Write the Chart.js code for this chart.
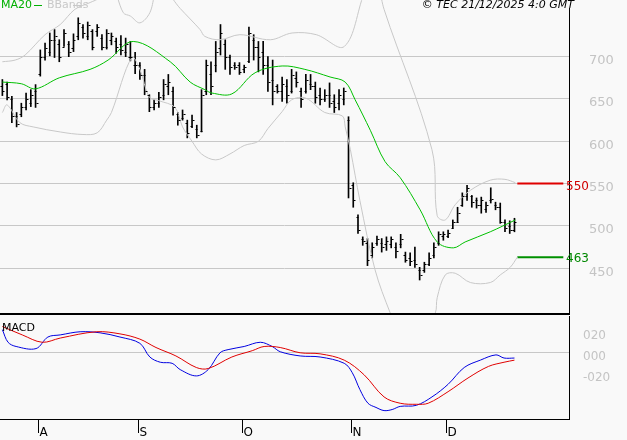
<!DOCTYPE html>
<html><head><meta charset="utf-8">
<script src="https://cdn.jsdelivr.net/npm/chart.js@4"></script>
<style>
html,body{margin:0;padding:0;background:#f9f9f9;overflow:hidden;}
canvas{display:block;position:absolute;left:0;}
#c1{top:0;}
#c2{top:316px;}
</style></head><body>
<canvas id="c1" width="627" height="316"></canvas>
<canvas id="c2" width="627" height="124"></canvas>
<script>
// ---- DATA ----
const opens  = [665,668,650,630,632,640,645,660, 680,700,705,720,715,712,715,710,725,735,725,730,730,722,712,720,718,715,705,700,690, 690,678,655,640,645,655,665,660,632,628,622,618,615,612,660,680,690,710,715,700,690,690, 685,695,720,712,705,690,672,665,660,665,660,675,660,660,668,665,655,650,655,648,645,650,625, 548,510,485,480,465,480,480,478,478,475,478,465,462,460,448,448,455,465,480,488, 488,498,505,525,535,535,530,525,520,530,525,522,505,500,495];
const highs  = [673,670,653,634,645,657,661,667, 708,716,728,732,720,732,718,727,746,738,741,732,738,726,732,728,722,725,722,718,705, 693,685,655,649,658,673,679,664,634,637,625,631,619,661,696,694,718,738,720,702,693,693, 690,735,726,718,718,700,696,667,676,673,685,682,663,679,679,670,663,661,669,655,661,663,629, 551,513,487,485,480,488,485,487,487,480,490,469,468,475,451,457,468,480,493,493, 495,507,522,539,548,536,533,534,528,545,528,527,507,506,509];
const lows   = [654,649,622,617,629,637,641,640, 677,696,701,699,694,712,700,706,720,722,720,708,724,708,709,714,704,702,700,695,680, 673,655,635,637,640,649,655,631,619,625,604,616,604,611,655,655,682,702,685,679,685,679, 681,693,696,682,679,659,643,657,647,645,657,664,640,657,661,645,643,647,640,634,637,643,533, 522,491,477,453,462,477,469,471,474,462,474,457,453,451,436,445,453,462,477,483, 486,497,504,523,530,522,521,515,516,527,519,503,493,491,493];
const closes = [660,652,630,620,640,650,655,645, 700,710,720,725,700,728,705,720,740,728,738,712,735,712,728,725,712,708,715,700,690, 678,660,640,645,652,668,670,640,625,632,610,625,608,655,690,665,705,728,700,688,688,682, 688,728,712,700,690,670,660,660,668,655,678,670,650,672,665,652,650,655,645,640,655,660,545, 530,495,482,460,475,485,475,482,485,470,485,460,458,455,442,455,462,475,490,490, 492,505,515,535,545,528,525,530,525,532,522,505,498,495,505];
const ma20Pts  = [[0,670],[4,668],[7,662],[12,675],[18.5,685],[22.3,696],[27.6,718],[35.4,694],[39.6,670],[42.7,661],[44.2,657],[48.4,656],[53.3,681],[59,689],[63.8,685],[69.1,676],[72.3,670],[74.4,649],[77.6,613],[80.7,576],[83.9,557],[88.1,519],[91.7,481],[95.1,474],[97.6,481],[102.9,493],[108.2,507]];
const upperPts = [[0,694],[2.7,696],[4.8,702],[9,726],[12.2,738],[15.3,756],[18.5,764],[20.6,770],[23,785],[25.5,752],[27,748],[29,740],[31.1,752],[33,785],[37.5,757],[41.7,732],[42.7,724],[45.9,720],[50.1,726],[56.5,720],[61.1,728],[66.2,726],[72.1,712],[76.3,775],[78.5,800],[80.5,756],[90.6,590],[91.7,512],[93.4,507],[95.5,525],[98.7,542],[102.9,554],[106,555],[108.2,551]];
const lowerPts = [[0,634],[1,643],[3.7,622],[6.5,617],[12.2,611],[17,608],[20,610],[22,625],[23,634],[27.3,699],[29,685],[31,652],[33,648],[36.4,640],[38,617],[40,600],[42,585],[45,578],[48,585],[51,595],[54,600],[56,615],[59,635],[61,649],[64,651],[68,634],[71.7,630],[72.3,617],[73.4,590],[75.4,530],[78.6,448],[81.8,397],[84,370],[88,362],[91.3,397],[91.7,415],[93.4,442],[95.5,444],[98.7,433],[102.9,433],[105,442],[107.1,451],[108.6,463]];
const macdPts  = [[0,22],[1.2,10],[2.9,6],[7.1,4],[9.6,15],[12.2,17],[16.4,20],[20.6,19],[24.8,15],[29,9],[31.1,-4],[33.3,-9],[35.8,-10],[37.5,-16],[40.9,-22],[43.4,-16],[45.9,0],[47.6,3],[51,6],[54.4,10],[56.9,6],[58.6,1],[62.8,-3],[67,-4],[72.1,-10],[73.8,-19],[75.4,-35],[77.1,-48],[78.8,-52],[80.5,-55],[82.2,-54],[83.9,-51],[87.3,-50],[90.6,-42],[94,-30],[97.4,-14],[100.8,-7],[104.1,-2],[105.8,-5],[108,-5]];
const signalPts= [[0,25],[4.2,17],[8.4,10],[12.2,14],[19.8,20],[24.8,18],[29,13],[32.4,5],[36.6,-3],[40.9,-14],[43.4,-15],[48.4,-4],[52.7,2],[55.2,6],[58.6,5],[62.8,0],[67,-1],[72.1,-7],[76.3,-21],[80.5,-42],[83.9,-48],[87.3,-49],[89.8,-48],[94,-37],[98.2,-24],[102.5,-13],[105.8,-9],[108,-7]];
const resistance = 550, support = 463;
const priceTicks = [450,500,550,600,650,700];
const macdTicks = [[20,'020'],[0,'000'],[-20,'-020']];
const monthIdx = [8,29,51,74,94];
const monthLbl = ['A','S','O','N','D'];
const N_SLOTS = 120;

const P = a => a.map(p => ({x:p[0], y:p[1]}));
const AXW = 58;
const xCfg = {type:'linear', min:-0.5, max:N_SLOTS-0.5, display:false, offset:false};
const fitY = ax => { ax.width = AXW; ax.paddingTop = 0; ax.paddingBottom = 0; };

const ohlcPlugin = {
  id:'ohlc',
  afterDatasetsDraw(c){
    const ctx=c.ctx, xs=c.scales.x, ys=c.scales.y, a=c.chartArea;
    ctx.save();
    ctx.strokeStyle='#000'; ctx.lineWidth=1;
    for(let i=0;i<closes.length;i++){
      const x=Math.round(xs.getPixelForValue(i))+0.5;
      let y=Math.round(ys.getPixelForValue(opens[i]))+0.5;
      ctx.beginPath(); ctx.moveTo(x-2,y); ctx.lineTo(x,y); ctx.stroke();
      y=Math.round(ys.getPixelForValue(closes[i]))+0.5;
      ctx.beginPath(); ctx.moveTo(x,y); ctx.lineTo(x+2,y); ctx.stroke();
    }
    ctx.fillStyle='#000';
    ctx.fillRect(0,a.bottom,a.right+1,2);
    ctx.fillRect(a.right,8,1,a.bottom-8+2);
    ctx.font='12px "DejaVu Sans", sans-serif'; ctx.textBaseline='middle'; ctx.textAlign='left';
    ctx.fillStyle='#d00000'; ctx.fillText(String(resistance), a.right-3, ys.getPixelForValue(resistance)+3);
    ctx.fillStyle='#008800'; ctx.fillText(String(support), a.right-3, ys.getPixelForValue(support)+2);
    ctx.font='11px "DejaVu Sans", sans-serif'; ctx.textBaseline='middle';
    ctx.fillStyle='#00b000'; ctx.fillText('MA20', 1, 5);
    ctx.strokeStyle='#00b000'; ctx.beginPath(); ctx.moveTo(34,5.5); ctx.lineTo(42,5.5); ctx.stroke();
    ctx.fillStyle='#c8c8c8'; ctx.fillText('BBands', 47, 5);
    ctx.strokeStyle='#c8c8c8'; ctx.beginPath(); ctx.moveTo(73,5.5); ctx.lineTo(81,5.5); ctx.stroke();
    ctx.fillStyle='#000'; ctx.font='italic 11px "DejaVu Sans", sans-serif'; ctx.textAlign='right';
    ctx.fillText('© TEC 21/12/2025 4:0 GMT', 574, 5);
    ctx.restore();
  }
};

const lineDs = (pts,color,w) => ({type:'line', data:P(pts), borderColor:color, borderWidth:w, pointRadius:0, tension:0.35, fill:false});

new Chart(document.getElementById('c1'), {
  type:'bar',
  data:{datasets:[
    lineDs(upperPts,'#c8c8c8',1),
    lineDs(lowerPts,'#c8c8c8',1),
    lineDs(ma20Pts,'#00c000',1),
    {type:'line', data:[{x:108.6,y:resistance},{x:118.3,y:resistance}], borderColor:'#e00000', borderWidth:2, pointRadius:0},
    {type:'line', data:[{x:108.6,y:support},{x:118.3,y:support}], borderColor:'#009000', borderWidth:2, pointRadius:0},
    {type:'bar', data:closes.map((c,i)=>({x:i, y:[lows[i],highs[i]]})), backgroundColor:'#000', barThickness:1, borderWidth:0, grouped:false}
  ]},
  options:{
    responsive:false, animation:false, devicePixelRatio:1,
    layout:{padding:{left:0,right:0,top:0,bottom:3}},
    plugins:{legend:{display:false}, tooltip:{enabled:false}},
    scales:{
      x:xCfg,
      y:{position:'right', min:397, max:767,
         afterFit:fitY,
         afterBuildTicks(ax){ax.ticks=priceTicks.map(v=>({value:v}));},
         grid:{color:'#c8c8c8', drawTicks:false}, border:{display:false},
         ticks:{color:'#c4c4c4', font:{size:13, family:'"DejaVu Sans", sans-serif'}, padding:20, labelOffset:4, callback:v=>String(v)}}
    }
  },
  plugins:[ohlcPlugin]
});

const macdPlugin = {
  id:'macdFrame',
  afterDatasetsDraw(c){
    const ctx=c.ctx, xs=c.scales.x, a=c.chartArea;
    ctx.save();
    ctx.fillStyle='#000';
    ctx.fillRect(0,a.bottom,a.right+1,1);
    ctx.fillRect(a.right,0,1,a.bottom+1);
    ctx.font='11px "DejaVu Sans", sans-serif'; ctx.textBaseline='middle'; ctx.textAlign='left';
    ctx.fillText('MACD', 2, 12);
    ctx.font='12px "DejaVu Sans", sans-serif';
    monthIdx.forEach((m,k)=>{
      const x=Math.round(xs.getPixelForValue(m-0.5))+0.5;
      ctx.beginPath(); ctx.moveTo(x,a.bottom); ctx.lineTo(x,a.bottom+14); ctx.strokeStyle='#000'; ctx.lineWidth=1; ctx.stroke();
      ctx.fillText(monthLbl[k], x+1, a.bottom+14);
    });
    ctx.restore();
  }
};

new Chart(document.getElementById('c2'), {
  type:'line',
  data:{datasets:[
    {data:P(signalPts), borderColor:'#e00000', borderWidth:1, pointRadius:0, tension:0.35},
    {data:P(macdPts), borderColor:'#0000e0', borderWidth:1, pointRadius:0, tension:0.35}
  ]},
  options:{
    responsive:false, animation:false, devicePixelRatio:1,
    layout:{padding:{left:0,right:0,top:0,bottom:21}},
    plugins:{legend:{display:false}, tooltip:{enabled:false}},
    scales:{
      x:xCfg,
      y:{position:'right', min:-63, max:35,
         afterFit:fitY,
         afterBuildTicks(ax){ax.ticks=macdTicks.map(t=>({value:t[0]}));},
         grid:{color:(ctx)=>ctx.tick && ctx.tick.value===0?'#c8c8c8':'rgba(0,0,0,0)', drawTicks:false}, border:{display:false},
         ticks:{color:'#c4c4c4', font:{size:12, family:'"DejaVu Sans", sans-serif'}, padding:14, labelOffset:4,
           callback:v=>{const t=macdTicks.find(q=>q[0]===v); return t?t[1]:'';}}}
    }
  },
  plugins:[macdPlugin]
});
</script></body></html>
